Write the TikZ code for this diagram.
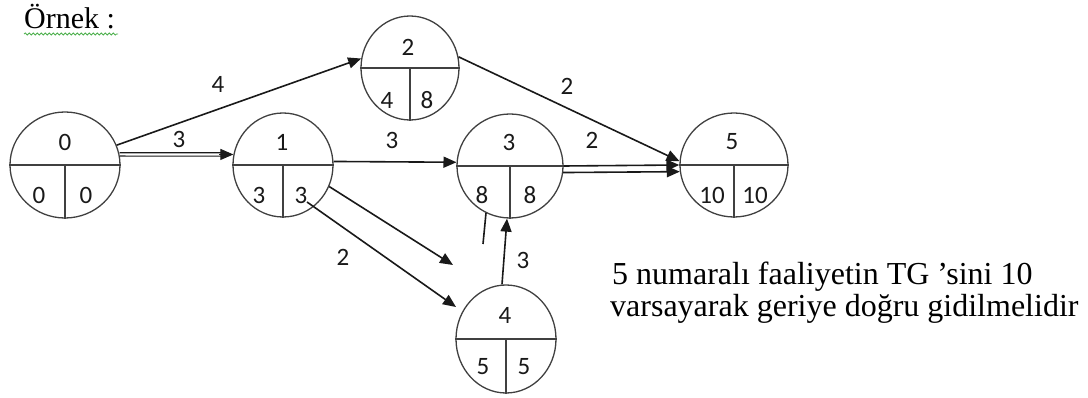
\documentclass[tikz,border=0pt]{standalone}
\usepackage{fontspec}
\setmainfont{Liberation Serif}
\newfontfamily\numfont{Carlito}
\usetikzlibrary{arrows.meta,shapes.geometric,calc,decorations.pathmorphing}
\begin{document}
\begin{tikzpicture}[x=1pt,y=-1pt,
  ev/.style={ellipse,draw=black!75,line width=1.3pt,inner sep=0pt},
  div/.style={draw=black!75,line width=1.3pt},
  conn/.style={draw=black!90,line width=1.6pt,-{Triangle[length=13pt,width=11pt]}},
  plainline/.style={draw=black!90,line width=1.6pt},
  num/.style={font=\numfont\fontsize{25}{30}\selectfont,text=black!90,inner sep=0pt},
  txt/.style={font=\fontsize{32}{32}\selectfont,text=black,inner sep=0pt,anchor=base west}]
\useasboundingbox (0,0) rectangle (1088,398);

% title
\node[font=\fontsize{30}{30}\selectfont,inner sep=0pt,anchor=base west] (title) at (24,29) {Örnek :};
\draw[green!55!black!70,line width=0.8pt,decorate,decoration={snake,segment length=4pt,amplitude=1pt}]
  ($(title.base west)+(0,5)$) -- ($(title.base east)+(3,5)$);

% event nodes
\node[ev,minimum width=110pt,minimum height=106pt] (n0) at (65,165) {};
\node[ev,minimum width=100pt,minimum height=104pt] (n1) at (283,165) {};
\node[ev,minimum width=98pt,minimum height=104pt] (n2) at (410,68) {};
\node[ev,minimum width=106pt,minimum height=104pt] (n3) at (510,166) {};
\node[ev,minimum width=100pt,minimum height=108pt] (n4) at (506,339) {};
\node[ev,minimum width=108pt,minimum height=104pt] (n5) at (734,165) {};

\foreach \n in {n0,n1,n2,n3,n4,n5}{
  \draw[div] (\n.west) -- (\n.east) (\n.center) -- (\n.south);
}

% node numbers
\node[num] (t0) at ($(n0)+(0,-23)$) {0};
\node[num] (t0a) at ($(n0)+(-26,30)$) {0};
\node[num] (t0b) at ($(n0)+(21,30)$) {0};
\node[num] (t1) at ($(n1)+(-1,-23)$) {1};
\node[num] (t1a) at ($(n1)+(-24,30)$) {3};
\node[num] (t1b) at ($(n1)+(18,30)$) {3};
\node[num] (t2) at ($(n2)+(-2,-21)$) {2};
\node[num] (t2a) at ($(n2)+(-23,32)$) {4};
\node[num] (t2b) at ($(n2)+(17,32)$) {8};
\node[num] (t3) at ($(n3)+(-1,-24)$) {3};
\node[num] (t3a) at ($(n3)+(-28,29)$) {8};
\node[num] (t3b) at ($(n3)+(20,29)$) {8};
\node[num] (t4) at ($(n4)+(-1,-24)$) {4};
\node[num] (t4a) at ($(n4)+(-23,28)$) {5};
\node[num] (t4b) at ($(n4)+(18,28)$) {5};
\node[num] (t5) at ($(n5)+(-2,-23)$) {5};
\node[num] (t5a) at ($(n5)+(-22,30)$) {10};
\node[num] (t5b) at ($(n5)+(21,30)$) {10};

% connectors
\draw[conn] (n0.21) -- (n2.169);
\draw[plainline,line width=1.2pt,double=white,double distance=2.2pt,shorten >=10pt] (n0.11) -- (n1.168);
\draw[conn,line width=1pt] ($(n1.168)+(-14,0)$) -- (n1.168);
\draw[conn] (n1.4) -- (n3.176);
\coordinate (s1) at (453,265);
\draw[conn] (n1.-25) -- (s1);
\coordinate (s2) at (456,307);
\draw[conn] ($(n1)+(24,37)$) -- (s2);
\draw[conn] ($(n4.north)+(-4,0)$) -- ($(n3.south)+(-3,0)$);
\coordinate (s3a) at (486,213);
\coordinate (s3b) at (483,244);
\draw[plainline] (s3a) -- (s3b);
\draw[conn] (n2.13) -- (n5.176);
\draw[conn] (n3.0) -- (n5.180);
\draw[conn] (n3.-7) -- (n5.-173);

% arrow labels
\node[num] (l02) at (218,84) {4};
\node[num] (l01) at (179,139) {3};
\node[num] (l13) at (392,140) {3};
\node[num] (l14) at (343,257) {2};
\node[num] (l43) at (523,260) {3};
\node[num] (l25) at (567,86) {2};
\node[num] (l35) at (592,140) {2};

% note
\node[txt] (note1) at (612,285) {5 numaralı faaliyetin TG ’sini 10};
\node[txt] (note2) at (610,317) {varsayarak geriye doğru gidilmelidir};
\end{tikzpicture}
\end{document}
